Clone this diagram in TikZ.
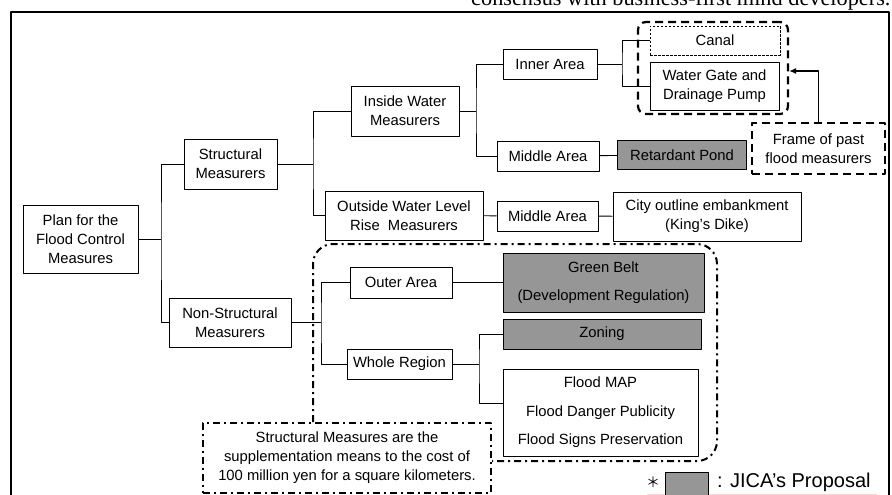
\documentclass[tikz,border=0pt]{standalone}
\usepackage{fontspec}
\setmainfont{Liberation Sans}
\newfontfamily\headserif{Liberation Serif}
\newfontfamily\cjk{Noto Sans CJK JP}
\usetikzlibrary{arrows.meta}
\definecolor{propgray}{RGB}{150,150,150}
\definecolor{legendpink}{RGB}{250,215,215}

\begin{document}
\begin{tikzpicture}[x=1pt, y=-1pt, line join=round, >={Latex[length=7pt,width=6pt]},
	font=\fontsize{14.8}{19}\selectfont,
	box/.style={draw, line width=0.9pt, align=center, inner sep=0pt},
	propbox/.style={box, fill=propgray},
	tallrows/.style={font=\fontsize{14.8}{28.5}\selectfont},
	branch/.style={line width=0.9pt},
	bigdash/.style={line width=2.2pt, dash pattern=on 8pt off 5pt},
	dashdot/.style={line width=2pt, dash pattern=on 7pt off 4pt on 2pt off 4pt}]
	\useasboundingbox (0,0) rectangle (892,495);
	\clip (0,0) rectangle (892,495);
	
	% page text cut by the frame
	\node[anchor=base west, inner sep=0pt, font=\headserif\fontsize{22.3}{24}\selectfont] (headline) at (471,5.5) {consensus with business-first mind developers.};
	\draw[line width=2.4pt] (11,500) -- (11,12) -- (889,12) -- (889,500);
	
	% tree
	\node[box, minimum width=115, minimum height=68] (plan) at (80.5,239) {Plan for the\\Flood Control\\Measures};
	\node[box, minimum width=93, minimum height=50] (struct) at (230.5,164) {Structural\\Measurers};
	\node[box, minimum width=122, minimum height=49] (nonstruct) at (230,322.5) {Non-Structural\\Measurers};
	\node[box, minimum width=108, minimum height=50] (inside) at (405,111) {Inside Water\\Measurers};
	\node[box, minimum width=158, minimum height=49] (outside) at (404,215.5) {Outside Water Level\\Rise\ \ Measurers};
	\node[box, minimum width=94, minimum height=30] (inner) at (550,64) {Inner Area};
	\node[box, minimum width=102, minimum height=30] (midA) at (548,156) {Middle Area};
	\node[propbox, minimum width=129, minimum height=29] (pond) at (682,155) {Retardant Pond};
	\node[box, line width=0.7pt, dash pattern=on 2.5pt off 1.5pt, minimum width=130, minimum height=29] (canal) at (715,40.5) {Canal};
	\node[box, minimum width=129, minimum height=48] (water) at (714.5,86) {Water Gate and\\Drainage Pump};
	\node[box, minimum width=101, minimum height=30] (midB) at (547.5,216) {Middle Area};
	\node[box, minimum width=188, minimum height=49] (city) at (707,216.5) {City outline embankment\\(King's Dike)};
	\node[box, minimum width=102, minimum height=31] (outer) at (401,282.5) {Outer Area};
	\node[box, minimum width=105, minimum height=30] (whole) at (399.5,364) {Whole Region};
	\node[propbox, tallrows, minimum width=201, minimum height=59] (green) at (603.5,282.5) {Green Belt\\(Development Regulation)};
	\node[propbox, minimum width=198, minimum height=30] (zoning) at (602,334) {Zoning};
	\node[box, tallrows, minimum width=195, minimum height=87] (flood) at (600.5,412.5) {Flood MAP\\Flood Danger Publicity\\Flood Signs Preservation};
	
	\coordinate (j1) at (161,239);
	\coordinate (j2) at (313,164);
	\coordinate (j3) at (476,111);
	\coordinate (j4) at (622,64);
	\coordinate (j5) at (321,322.5);
	\coordinate (j6) at (479,364);
	\draw[branch] (plan) -- (j1);
	\draw[branch] (struct.west) -| (j1) |- (nonstruct.west);
	\draw[branch] (struct) -- (j2);
	\draw[branch] (inside.west) -| (j2) |- (outside.west);
	\draw[branch] (inside) -- (j3);
	\draw[branch] (inner.west) -| (j3) |- (midA.west);
	\draw[branch] (inner) -- (j4);
	\draw[branch] (canal.west) -| (j4) |- (water.west);
	\draw[branch] (midA) -- (pond);
	\draw[branch] (outside) -- (midB);
	\draw[branch] (midB) -- (city);
	\draw[branch] (nonstruct) -- (j5);
	\draw[branch] (outer.west) -| (j5) |- (whole.west);
	\draw[branch] (outer) -- (green);
	\draw[branch] (whole) -- (j6);
	\draw[branch] (zoning.west) -| (j6) |- ([yshift=9.5pt]flood.west);
	
	% past measures frame
	\node[draw, bigdash, rounded corners=8pt, minimum width=150, minimum height=92] (gate) at (713,68) {};
	\node[draw, bigdash, align=center, minimum width=133, minimum height=51, inner sep=0pt] (frame) at (818.5,148.5) {Frame of past\\flood measurers};
	\draw[->, line width=1.6pt] (frame.north) |- ([yshift=-3pt]gate.east);
	
	% non-structural region and note
	\node[draw, dashdot, align=center, minimum width=288, minimum height=70, inner sep=0pt] (note) at (347,458) {Structural Measures are the\\supplementation means to the cost of\\100 million yen for a square kilometers.};
	\draw[dashdot, rounded corners=20pt] (note.north -| j5) ++(-8,0) -- (313,244) -- (717,244) -- (717,461) -- (note.east |- 0,461);
	
	% legend
	\draw[legendpink, line width=0.8pt] (647,494) -- (877,494);
	\node[font=\cjk\fontsize{14}{14}\selectfont, inner sep=0pt] (star) at (653,482) {＊};
	\node[propbox, minimum width=43, minimum height=26, anchor=north west] (legendbox) at (665,472) {};
	\node[anchor=base west, inner sep=0pt, font=\fontsize{20}{22}\selectfont] (legendtext) at (717,487.5) {: JICA’s Proposal};
\end{tikzpicture}
\end{document}
